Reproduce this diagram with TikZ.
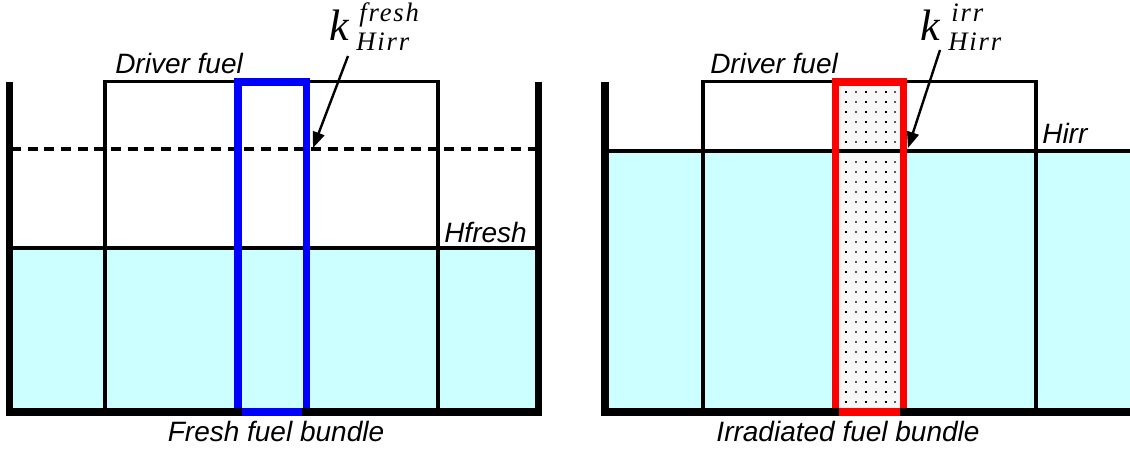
\documentclass[tikz,border=0pt]{standalone}
\usepackage{fontspec}
\setmainfont{Liberation Sans}
\newfontfamily\serfont{Liberation Serif}
\newfontfamily\serfontsp{Liberation Serif}[LetterSpace=7]
\usetikzlibrary{arrows.meta}
\definecolor{water}{HTML}{CCFFFF}
\definecolor{fblue}{HTML}{0000FF}
\definecolor{fred}{HTML}{FF0000}
\tikzset{
  wall/.style={line width=5.6pt,line cap=butt},
  fuelline/.style={line width=2.6pt},
  bundle/.style={line width=5.6pt,line cap=butt},
  lab/.style={font=\fontsize{21}{24}\selectfont\itshape,inner sep=0pt},
  kbig/.style={font=\serfont\fontsize{33}{35}\selectfont\itshape,inner sep=0pt},
  kscript/.style={font=\serfontsp\fontsize{20}{22}\selectfont\itshape,inner sep=0pt},
  pointer/.style={line width=1.8pt,-{Triangle[length=12pt,width=9pt]}},
}
\begin{document}
\begin{tikzpicture}[x=0.75pt,y=-0.75pt]
\useasboundingbox (0,0) rectangle (1130,450);

% ================= LEFT PANEL =================
\fill[water] (9,248) rectangle (538,412);
% driver fuel box
\draw[fuelline] (105,412) -- (105,81.5) -- (438,81.5) -- (438,412);
% Hfresh level
\draw[fuelline] (9,248) -- (538,248);
% dashed level
\draw[fuelline,dash pattern=on 7.5pt off 5pt] (11,149) -- (536,149);
% blue bundle
\draw[bundle,fblue] (238,408) -- (238,82) -- (306.7,82) -- (306.7,408);
% walls
\draw[wall] (9.5,82) -- (9.5,412) -- (538.5,412) -- (538.5,82);
\draw[bundle,fblue] (241.7,412) -- (301.7,412);

% labels
\node[lab,anchor=base west] (dfL) at (115,73) {Driver fuel};
\node[lab,anchor=base west] (hf) at (444,242) {Hfresh};
\node[lab,anchor=base] (ffb) at (276,441) {Fresh fuel bundle};
\node[kbig,anchor=base west] (kL) at (329,40) {k};
\node[kscript,anchor=base west] (kLsup) at (359,21) {fresh};
\node[kscript,anchor=base west] (kLsub) at (356,50) {Hirr};
\coordinate (tL) at (313,148);
\draw[pointer] (348,56) -- (tL);

% ================= RIGHT PANEL =================
\fill[water] (605,151) rectangle (1130,412);
% dotted irradiated bundle interior
\fill[gray!6] (839,85) rectangle (900,408);
\foreach \i in {0,...,31}{
  \foreach \cx/\sh in {846/black,856/gray!70!black,866/black,876/gray!70!black,886/black,895/gray!70!black}{
    \fill[\sh] ({\cx-1.1},{92+10*\i-1.1}) rectangle ({\cx+1.1},{92+10*\i+1.1});
  }
}
% driver fuel box
\draw[fuelline] (703,412) -- (703,81.5) -- (1036,81.5) -- (1036,412);
% Hirr level
\draw[fuelline] (605,151) -- (1130,151);
% red bundle
\draw[bundle,fred] (835.5,408) -- (835.5,82) -- (903.7,82) -- (903.7,408);
% walls
\draw[wall] (605,82) -- (605,412) -- (1130,412);
\draw[bundle,fred] (839,412) -- (900,412);

% labels
\node[lab,anchor=base west] (dfR) at (710,73) {Driver fuel};
\node[lab,anchor=base west] (hi) at (1042,143) {Hirr};
\node[lab,anchor=base] (ifb) at (848,441) {Irradiated fuel bundle};
\node[kbig,anchor=base west] (kR) at (920,40) {k};
\node[kscript,anchor=base west] (kRsup) at (951,21) {irr};
\node[kscript,anchor=base west] (kRsub) at (948,50) {Hirr};
\coordinate (tR) at (908,148);
\draw[pointer] (940,50) -- (tR);
\end{tikzpicture}
\end{document}
